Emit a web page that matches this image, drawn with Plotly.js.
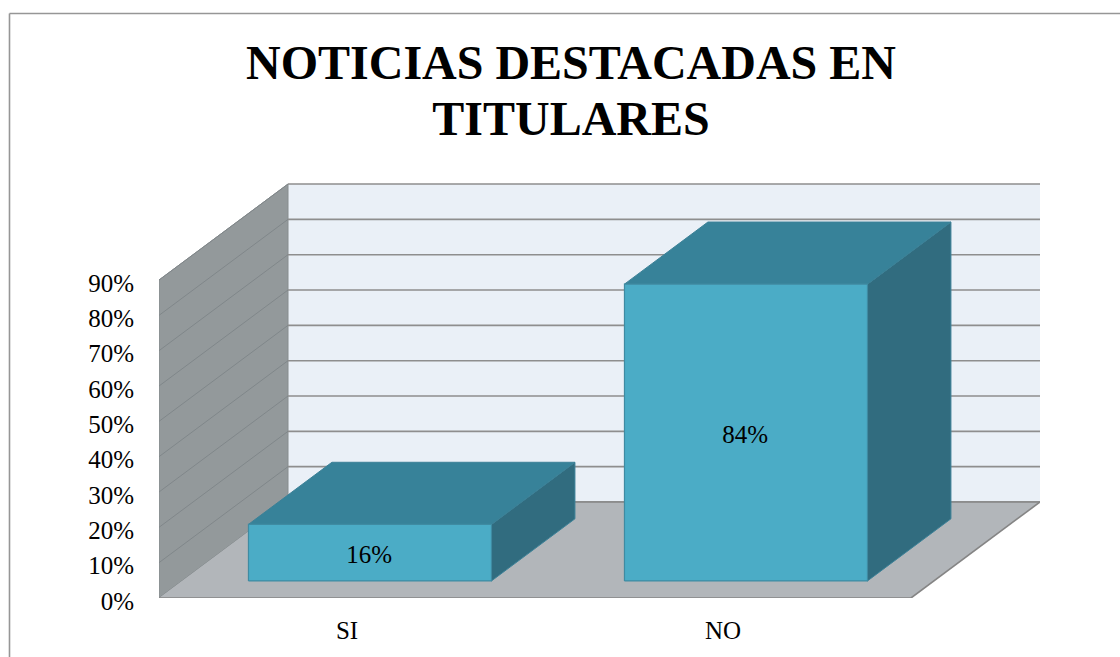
<!DOCTYPE html>
<html>
<head>
<meta charset="utf-8">
<script src="https://cdn.plot.ly/plotly-3.0.1.min.js"></script>
<style>html,body{margin:0;padding:0;background:#fff;overflow:hidden}#chart{width:1120px;height:657px}</style>
</head>
<body>
<div id="chart"></div>
<script>
// Data
const categories = ['SI', 'NO'];
const values = [16, 84];
const labels = ['16%', '84%'];
const yTicks = [0, 10, 20, 30, 40, 50, 60, 70, 80, 90];
const titleText = 'NOTICIAS DESTACADAS EN<br>TITULARES';

// Oblique 3D projection, in axis units
const PX_X = 376, PX_Y = 3.533;
const DX = 129 / PX_X, DY = 96 / PX_Y;
const BAR_HALF = 121.5 / PX_X, Z0 = 0.178, Z1 = 0.825;
const X_MIN = -0.5, X_MAX = 1.5, Y_TOP = 90;
const project = (x, y, z) => [x + z * DX, y + z * DY];

function poly(points, fill, line, lw) {
  const p = points.map(a => project(a[0], a[1], a[2]));
  p.push(p[0]);
  return {
    type: 'scatter', mode: 'lines', fill: 'toself', fillcolor: fill,
    x: p.map(a => a[0]), y: p.map(a => a[1]),
    line: {color: line || fill, width: lw === undefined ? 1 : lw},
    hoverinfo: 'skip', showlegend: false, cliponaxis: false
  };
}
function segments(list, color, width) {
  const x = [], y = [];
  list.forEach(s => {
    const a = project(s[0], s[1], s[2]), b = project(s[3], s[4], s[5]);
    x.push(a[0], b[0], null); y.push(a[1], b[1], null);
  });
  return {type: 'scatter', mode: 'lines', x, y, line: {color, width},
    hoverinfo: 'skip', showlegend: false, cliponaxis: false};
}

const traces = [];
// back wall, left wall, gridlines, floor
traces.push(poly([[X_MIN,0,1],[X_MAX,0,1],[X_MAX,Y_TOP,1],[X_MIN,Y_TOP,1]], '#EAF0F7', '#EAF0F7', 0));
traces.push(poly([[X_MIN,0,0],[X_MIN,0,1],[X_MIN,Y_TOP,1],[X_MIN,Y_TOP,0]], '#93999B', '#868C8E', 1));
traces.push(segments(yTicks.map(v => [X_MIN,v,1,X_MAX,v,1]), '#8E8E8E', 1.6));
traces.push(segments(yTicks.map(v => [X_MIN,v,0,X_MIN,v,1]), '#80878A', 1));
traces.push(poly([[X_MIN,0,0],[X_MAX,0,0],[X_MAX,0,1],[X_MIN,0,1]], '#B2B6BA', '#B2B6BA', 0));
traces.push(segments([[X_MIN,0,0,X_MAX,0,0],[X_MAX,0,0,X_MAX,0,1],[X_MIN,0,1,X_MAX,0,1]], '#858585', 1.6));

// bars
values.forEach((v, i) => {
  const l = i - BAR_HALF, r = i + BAR_HALF;
  traces.push(poly([[r,0,Z0],[r,0,Z1],[r,v,Z1],[r,v,Z0]], '#316C7F', '#3C8197', 1));
  traces.push(poly([[l,v,Z0],[r,v,Z0],[r,v,Z1],[l,v,Z1]], '#378299', '#3C8197', 1));
  traces.push(poly([[l,0,Z0],[r,0,Z0],[r,v,Z0],[l,v,Z0]], '#4BACC6', '#3F8BA2', 1.2));
});

// value labels
const lab = values.map((v, i) => project(i, v / 2, Z0));
traces.push({
  type: 'scatter', mode: 'text', x: lab.map(a => a[0] - 0.002), y: lab.map(a => a[1] - 1.1),
  text: labels, textposition: 'middle center',
  textfont: {family: '"Liberation Serif", serif', size: 25, color: '#000'},
  hoverinfo: 'skip', showlegend: false, cliponaxis: false
});

const W = 1120, H = 657, L = 159, R = 80, T = 183, B = 59;
const paperX = px => (px - L) / (W - L - R);
const paperY = py => (H - B - py) / (H - T - B);

const layout = {
  width: W, height: H,
  margin: {l: L, r: R, t: T, b: B, pad: 0},
  paper_bgcolor: '#fff', plot_bgcolor: 'rgba(0,0,0,0)',
  showlegend: false,
  title: {
    text: titleText,
    font: {family: '"Liberation Serif", serif', size: 48, color: '#000', weight: 'bold'},
    x: 571 / W, xanchor: 'center', xref: 'container',
    y: 1 - 79 / H, yanchor: 'top', yref: 'container'
  },
  font: {family: '"Liberation Serif", serif', color: '#000', size: 25},
  xaxis: {
    type: 'linear', range: [-0.5, -0.5 + (W - L - R) / PX_X], fixedrange: true,
    tickmode: 'array', tickvals: categories.map((c, i) => i), ticktext: categories,
    showgrid: false, zeroline: false, showline: false,
    ticks: 'outside', ticklen: 10, tickcolor: 'rgba(0,0,0,0)',
    tickfont: {size: 25, family: '"Liberation Serif", serif', color: '#000'}
  },
  yaxis: {
    type: 'linear', range: [0, (H - T - B) / PX_Y], fixedrange: true,
    tickmode: 'array', tickvals: yTicks, ticktext: yTicks.map(v => v + '%'),
    showgrid: false, zeroline: false, showline: false,
    ticks: 'outside', ticklen: 19, tickcolor: 'rgba(0,0,0,0)', ticklabelshift: 3,
    tickfont: {size: 25, family: '"Liberation Serif", serif', color: '#000'}
  },
  shapes: [
    {type: 'line', xref: 'paper', yref: 'paper', x0: paperX(9.5), x1: paperX(1120), y0: paperY(13.5), y1: paperY(13.5), line: {color: '#969696', width: 1.6}},
    {type: 'line', xref: 'paper', yref: 'paper', x0: paperX(9.5), x1: paperX(9.5), y0: paperY(13.5), y1: paperY(657), line: {color: '#969696', width: 1.6}}
  ]
};

function tightenTitle() {
  const lines = document.querySelectorAll('.gtitle tspan.line');
  if (lines.length > 1) lines[1].setAttribute('dy', '1.16em');
}
const gd = document.getElementById('chart');
Plotly.newPlot(gd, traces, layout, {displayModeBar: false, staticPlot: true}).then(() => {
  tightenTitle();
  gd.on('plotly_afterplot', tightenTitle);
});
</script>
</body>
</html>
